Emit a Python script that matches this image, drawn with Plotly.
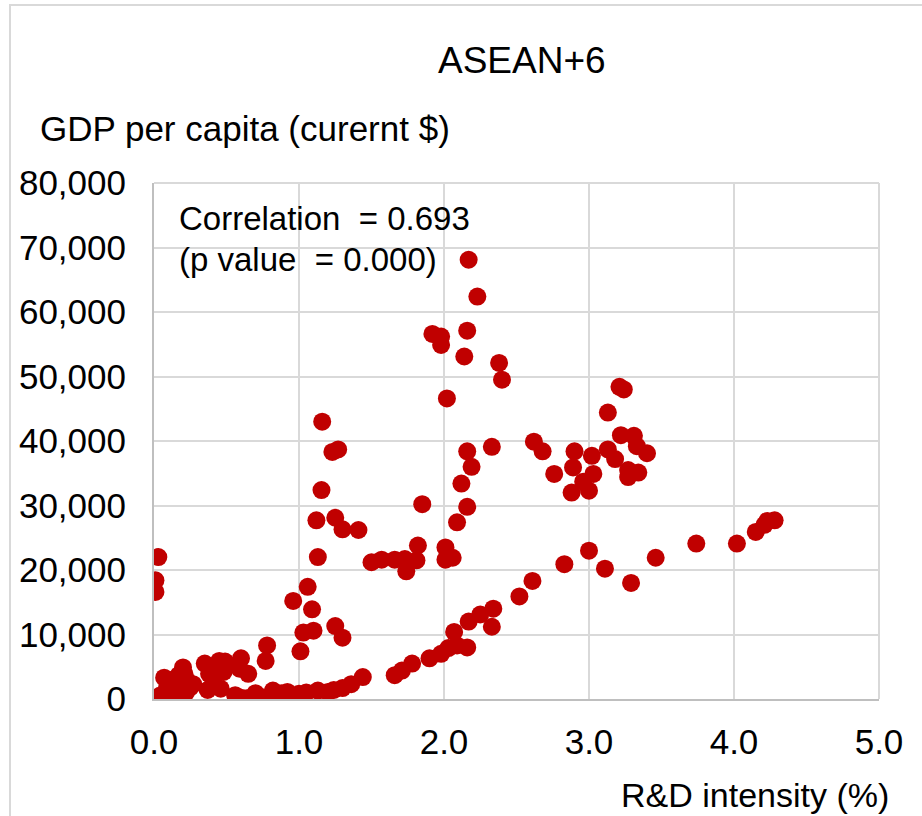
import plotly.graph_objects as go

# R&D intensity (%) and GDP per capita (current $)
rd_intensity = [
    0.03, 0.01, 0.01,
    0.04, 0.06, 0.07, 0.09, 0.10, 0.12, 0.13, 0.15, 0.17, 0.18, 0.19, 0.20, 0.21, 0.22, 0.23, 0.25, 0.27, 0.14, 0.08,
    0.35, 0.38, 0.37, 0.41, 0.45, 0.49, 0.48, 0.46,
    0.60, 0.59, 0.65, 0.56, 0.60, 0.64, 0.70, 0.74, 0.78, 0.77, 0.82, 0.88, 0.92, 1.00, 1.05, 1.13, 1.20,
    1.24, 1.30, 1.36, 1.44, 1.66, 1.71, 1.78, 1.90, 1.98, 2.03, 2.07, 2.09, 2.16, 2.17, 2.25, 2.34, 2.33,
    2.52, 2.61, 2.83, 3.00, 3.11, 3.29, 3.46, 3.74, 4.02, 4.15, 4.21, 4.23, 4.28,
    0.96, 1.06, 1.09, 1.03, 1.10, 1.01, 1.25, 1.30,
    1.16, 1.23, 1.27, 1.155, 1.12, 1.25, 1.30, 1.41, 1.13,
    1.50, 1.57, 1.66, 1.73, 1.74, 1.81, 1.82, 1.85,
    2.01, 2.01, 2.06, 2.09, 2.16, 2.12, 2.16, 2.19, 2.02, 1.92, 1.98, 1.98, 2.16, 2.14, 2.17, 2.23, 2.38, 2.40, 2.33,
    2.62, 2.68, 2.76, 2.88, 2.89, 3.00, 3.03, 2.96, 2.90, 3.02, 3.13, 3.18, 3.22, 3.31, 3.33, 3.40, 3.27, 3.34, 3.27,
    3.21, 3.24, 3.13,
]
gdp_per_capita = [
    22000, 18400, 16600,
    500, 200, 3300, 1700, 2600, 600, 3000, 1500, 3700, 300, 2200, 4900, 3900, 1000, 2800, 1800, 2300, 100, 1000,
    5500, 3900, 1400, 2600, 5900, 5800, 4200, 1600,
    6300, 4700, 3900, 600, 200, 100, 900, 300, 8300, 5900, 1300, 900, 1100, 800, 1000, 1300, 1100,
    1400, 1700, 2300, 3400, 3700, 4400, 5500, 6300, 7000, 7900, 10400, 8300, 8000, 12000, 13100, 14000, 11200,
    15900, 18300, 20900, 23000, 20200, 18000, 21900, 24100, 24100, 25900, 27000, 27600, 27700,
    15200, 17400, 13900, 10300, 10600, 7400, 11300, 9500,
    43000, 38300, 38700, 32400, 27700, 28100, 26300, 26200, 22000,
    21200, 21600, 21600, 21700, 19800, 21500, 23800, 30200,
    23500, 21600, 21900, 27400, 29800, 33400, 38400, 36000, 46600, 56600, 56200, 54900, 57100, 53100, 68100, 62400, 52100, 49500, 39100,
    39900, 38400, 34900, 32000, 35900, 32300, 34900, 33700, 38400, 37700, 38700, 37200, 40900, 40800, 39200, 38100, 35500, 35100, 34400,
    48400, 48000, 44400,
]

x_ticks = [0, 1, 2, 3, 4, 5]
x_tick_labels = ["0.0", "1.0", "2.0", "3.0", "4.0", "5.0"]
y_ticks = [0, 10000, 20000, 30000, 40000, 50000, 60000, 70000, 80000]
y_tick_labels = ["0", "10,000", "20,000", "30,000", "40,000", "50,000", "60,000", "70,000", "80,000"]

title_text = "ASEAN+6"
y_title = "GDP per capita (curernt $)"
x_title = "R&D intensity (%)"
corr_line1 = "Correlation  = 0.693"
corr_line2 = "(p value  = 0.000)"

FONT = "Liberation Sans, Arial, sans-serif"
GRID = "#D9D9D9"

fig = go.Figure(
    go.Scatter(
        x=rd_intensity,
        y=gdp_per_capita,
        mode="markers",
        marker=dict(size=18, color="#C00000", line=dict(width=0)),
        hoverinfo="x+y",
    )
)

W, H = 922, 816
L, R, T, B = 154, 43, 183, 117
pw, ph = W - L - R, H - T - B

def px(xp):
    return (xp - L) / pw

def py(yp):
    return (H - B - yp) / ph

fig.update_layout(
    width=W,
    height=H,
    margin=dict(l=L, r=R, t=T, b=B, pad=0),
    paper_bgcolor="white",
    plot_bgcolor="white",
    showlegend=False,
    font=dict(family=FONT, size=34, color="#000000"),
    xaxis=dict(
        range=[0, 5],
        tickvals=x_ticks,
        ticktext=x_tick_labels,
        showgrid=True,
        gridcolor=GRID,
        gridwidth=2,
        zeroline=False,
        showline=True,
        linecolor="#BFBFBF",
        linewidth=2,
        mirror=False,
        ticks="",
        ticklabelstandoff=11,
        tickfont=dict(size=35, family=FONT, color="#000000"),
    ),
    yaxis=dict(
        range=[0, 80000],
        tickvals=y_ticks,
        ticktext=y_tick_labels,
        showgrid=True,
        gridcolor=GRID,
        gridwidth=2,
        zeroline=False,
        showline=True,
        linecolor="#BFBFBF",
        linewidth=2,
        ticks="",
        ticklabelstandoff=19,
        tickfont=dict(size=35, family=FONT, color="#000000"),
    ),
    shapes=[
        dict(type="rect", xref="paper", yref="paper",
             x0=px(10), x1=px(930), y0=py(830), y1=py(5),
             line=dict(color="#D9D9D9", width=2), fillcolor="rgba(0,0,0,0)", layer="below"),
        dict(type="line", xref="paper", yref="paper",
             x0=1, x1=1, y0=0, y1=1, line=dict(color=GRID, width=2)),
        dict(type="line", xref="paper", yref="paper",
             x0=0, x1=1, y0=1, y1=1, line=dict(color=GRID, width=2)),
    ],
    annotations=[
        dict(text=title_text, xref="paper", yref="paper", x=px(522), y=py(60),
             xanchor="center", yanchor="middle", showarrow=False,
             font=dict(size=37, family=FONT, color="#000000")),
        dict(text=y_title, xref="paper", yref="paper", x=px(38), y=py(128),
             xanchor="left", yanchor="middle", showarrow=False,
             font=dict(size=35, family=FONT, color="#000000")),
        dict(text=x_title, xref="paper", yref="paper", x=px(891), y=py(795),
             xanchor="right", yanchor="middle", showarrow=False,
             font=dict(size=34, family=FONT, color="#000000")),
        dict(text=corr_line1, xref="paper", yref="paper", x=px(177), y=py(218),
             xanchor="left", yanchor="middle", showarrow=False,
             font=dict(size=33, family=FONT, color="#000000")),
        dict(text=corr_line2, xref="paper", yref="paper", x=px(177), y=py(259),
             xanchor="left", yanchor="middle", showarrow=False,
             font=dict(size=33, family=FONT, color="#000000")),
    ],
)

fig.write_html(
    "out.html",
    config={"displayModeBar": False},
    post_script="document.body.style.margin='0';document.body.style.overflow='hidden';",
)
